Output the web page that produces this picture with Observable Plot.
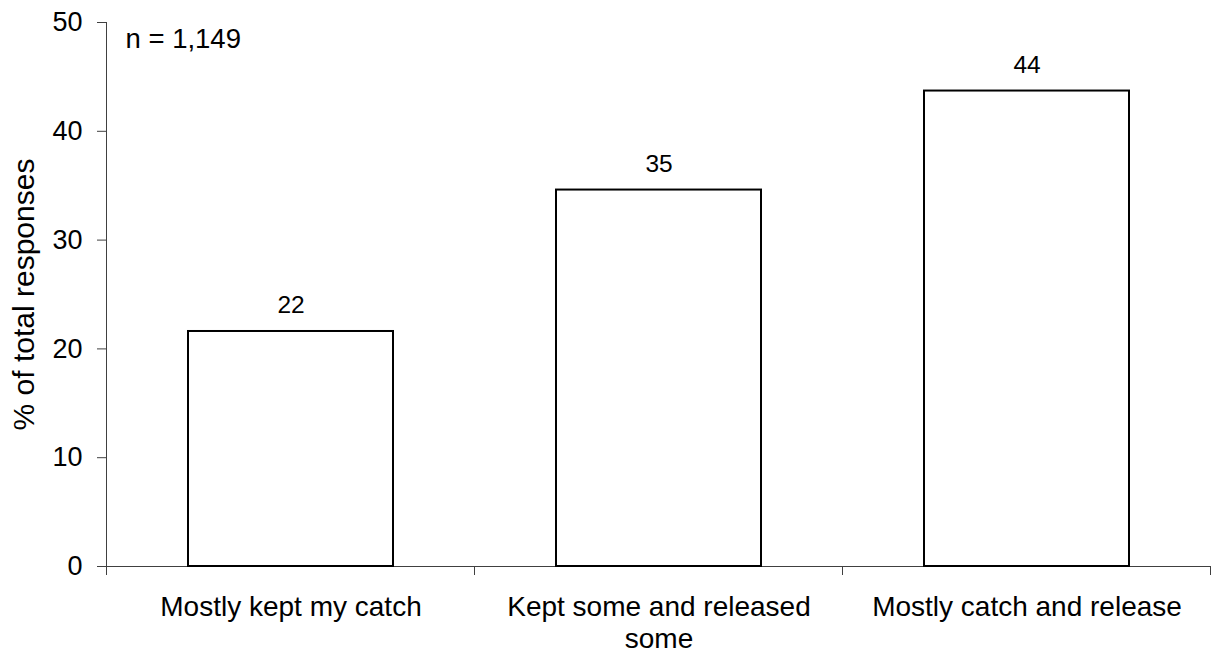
<!DOCTYPE html>
<html>
<head>
<meta charset="utf-8">
<script src="https://cdn.jsdelivr.net/npm/d3@7"></script>
<script src="https://cdn.jsdelivr.net/npm/@observablehq/plot@0.6"></script>
<style>
  html, body { margin: 0; padding: 0; background: white; }
</style>
</head>
<body>
<div id="chart"></div>
<script>
const categories = ["Mostly kept my catch", "Kept some and released some", "Mostly catch and release"];
const tickLabels = ["Mostly kept my catch", "Kept some and released\nsome", "Mostly catch and release"];
const values = [21.6, 34.6, 43.7];
const valueLabels = ["22", "35", "44"];
const yTicks = [0, 10, 20, 30, 40, 50];
const yTitle = "% of total responses";
const note = "n = 1,149";

const data = categories.map((c, i) => ({cat: c, value: values[i], label: valueLabels[i]}));

const axisColor = "#404040";
const font = "'Liberation Sans', Arial, sans-serif";

const chart = Plot.plot({
  width: 1212,
  height: 653,
  marginLeft: 106,
  marginRight: 1,
  marginTop: 22,
  marginBottom: 87,
  style: {fontFamily: font, background: "white", color: "black", overflow: "visible"},
  x: {domain: categories, paddingInner: 0.443, paddingOuter: 0.2215, label: null},
  y: {domain: [0, 50], label: null},
  marks: [
    Plot.axisY({
      ticks: yTicks, tickSize: 9, tickPadding: 15, fontSize: 27,
      stroke: axisColor, fill: "black", label: null
    }),
    Plot.axisX({
      tickSize: 0, tickPadding: 27, fontSize: 28, lineHeight: 1.14, fill: "black",
      tickFormat: d => tickLabels[categories.indexOf(d)], label: null
    }),
    Plot.text([yTitle], {frameAnchor: "left", rotate: -90, dx: -73, lineAnchor: "bottom", textAnchor: "middle", fontSize: 30, fill: "black"}),
    Plot.ruleY([0], {stroke: axisColor, strokeWidth: 1}),
    Plot.frame({anchor: "left", stroke: axisColor, strokeWidth: 1}),
    Plot.barY(data, {x: "cat", y: "value", fill: "white", stroke: "black", strokeWidth: 2}),
    Plot.text(data, {x: "cat", y: "value", text: "label", dy: -18, lineAnchor: "bottom", fontSize: 24.5, fill: "black"}),
    Plot.text([note], {frameAnchor: "top-left", dx: 19, dy: 6, textAnchor: "start", lineAnchor: "top", fontSize: 27.5, fill: "black"})
  ]
});

// category boundary ticks on the x axis, derived from the band scale
const xs = chart.scale("x");
const ys = chart.scale("y");
const y0 = ys.apply(0);
const half = (xs.step - xs.bandwidth) / 2;
const bounds = categories.map(c => xs.apply(c) - half);
bounds.push(xs.apply(categories[categories.length - 1]) + xs.bandwidth + half);
d3.select(chart).append("g")
  .attr("stroke", axisColor)
  .selectAll("line")
  .data(bounds)
  .join("line")
  .attr("x1", d => d).attr("x2", d => d)
  .attr("y1", y0).attr("y2", y0 + 9);

document.getElementById("chart").appendChild(chart);
</script>
</body>
</html>
